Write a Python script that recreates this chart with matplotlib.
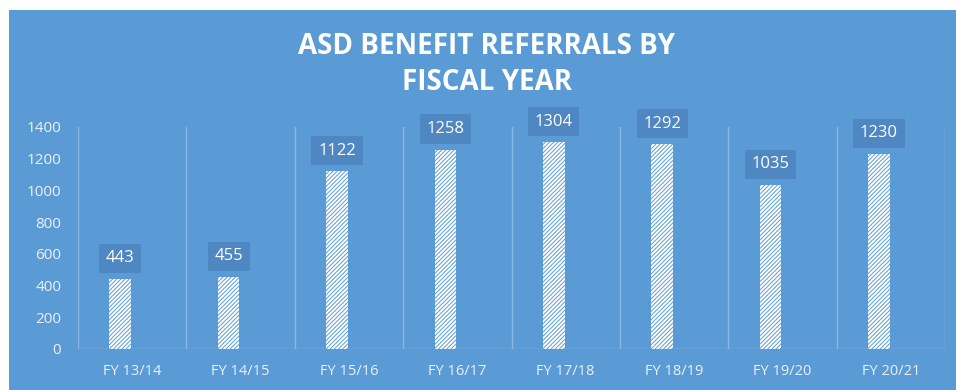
import matplotlib
matplotlib.use("Agg")
import matplotlib.pyplot as plt
from matplotlib.patches import Rectangle

AZUL, AZUL_ESCURO, GRADE = "#5b9bd5", "#4f87c2", "#8ab6e4"
TEXTO = "#e9f0fa"

anos = ["FY 13/14", "FY 14/15", "FY 15/16", "FY 16/17",
        "FY 17/18", "FY 18/19", "FY 19/20", "FY 20/21"]
encaminhamentos = [443, 455, 1122, 1258, 1304, 1292, 1035, 1230]

plt.rcParams["font.family"] = ["Open Sans", "DejaVu Sans"]
plt.rcParams["hatch.linewidth"] = 0.7

fig = plt.figure(figsize=(9.56, 3.9), dpi=100, facecolor="white")
# painel azul de fundo, atrás dos eixos
fig.patches.append(Rectangle((9 / 956, 0), 1, 380 / 390, transform=fig.transFigure,
                             facecolor=AZUL, edgecolor="none", zorder=-10))

ax = fig.add_axes([78 / 956, 41 / 390, 867 / 956, 222 / 390])
ax.set_facecolor("none")
ax.set_zorder(1)

x = list(range(len(anos)))
pos = [i - 0.11 for i in x]
ax.bar(pos, encaminhamentos, width=0.2, facecolor="white", edgecolor=AZUL,
       hatch="////////", linewidth=0, zorder=3)

for p, v in zip(pos, encaminhamentos):
    ax.annotate(str(v), (p, v), xytext=(0, 9), textcoords="offset points",
                ha="center", va="bottom", color="white", fontsize=12,
                bbox=dict(boxstyle="square,pad=0.4", facecolor=AZUL_ESCURO,
                          edgecolor="none"), zorder=4)

ax.set_xlim(-0.5, len(anos) - 0.5)
ax.set_ylim(0, 1400)
ax.set_yticks(range(0, 1401, 200))
ax.set_xticks(x)
ax.set_xticklabels(anos)

# linhas verticais entre as categorias
for b in [i - 0.5 for i in range(len(anos) + 1)]:
    ax.axvline(b, color=GRADE, linewidth=1, zorder=1)
ax.axhline(0, color=GRADE, linewidth=1, zorder=2)

for s in ax.spines.values():
    s.set_visible(False)
ax.tick_params(axis="both", length=0, colors=TEXTO)
ax.tick_params(axis="y", labelsize=11, pad=12)
ax.tick_params(axis="x", labelsize=10.5, pad=11)

fig.text(487 / 956, 1 - 47 / 390, "ASD BENEFIT REFERRALS BY", ha="center",
         va="center", color="white", fontsize=20, fontweight="bold")
fig.text(487 / 956, 1 - 83 / 390, "FISCAL YEAR", ha="center",
         va="center", color="white", fontsize=20, fontweight="bold")

fig.savefig("out.png", dpi=100, facecolor="white")
